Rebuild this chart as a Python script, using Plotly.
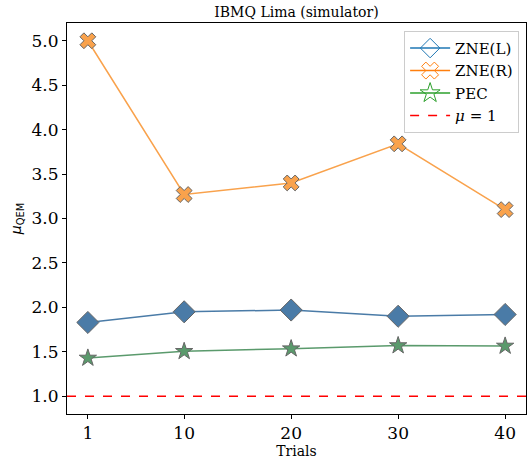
import plotly.graph_objects as go

trials = [1, 10, 20, 30, 40]
zne_l = [1.83, 1.95, 1.97, 1.90, 1.92]
zne_r = [5.00, 3.27, 3.40, 3.84, 3.10]
pec = [1.43, 1.505, 1.535, 1.57, 1.565]
baseline = 1.0

serif = "DejaVu Serif"

series = [
    ("ZNE(L)", zne_l, "#4a7ba7", "#1f77b4", "diamond", 17, "diamond-open"),
    ("ZNE(R)", zne_r, "#f9a24c", "#ff7f0e", "x", 14, "x-open"),
    ("PEC", pec, "#5a9a6c", "#2ca02c", "star", 13, "star-open"),
]

fig = go.Figure()
for name, vals, col, legcol, sym, size, opensym in series:
    fig.add_trace(go.Scatter(
        x=trials, y=vals, mode="lines+markers", showlegend=False,
        line=dict(color=col, width=1.5),
        marker=dict(symbol=sym, size=size, color=col,
                    line=dict(color="#666666", width=1)),
    ))
    fig.add_trace(go.Scatter(
        x=[None], y=[None], mode="lines+markers", name=name,
        line=dict(color=legcol, width=1.5),
        marker=dict(symbol=opensym, size=15, color=legcol,
                    line=dict(color=legcol, width=1)),
    ))

fig.add_hline(y=baseline, line=dict(color="red", width=1.5, dash="dash"))
fig.add_trace(go.Scatter(
    x=[None], y=[None], mode="lines", name="<i>μ</i> = 1",
    line=dict(color="red", width=1.5, dash="dash"),
))

fig.update_layout(
    width=528, height=462,
    margin=dict(l=67, r=2, t=23, b=48),
    plot_bgcolor="white", paper_bgcolor="white",
    title=dict(text="IBMQ Lima (simulator)", x=(67 + 526) / 2 / 528,
               xanchor="center", y=1 - 12 / 462, yanchor="middle",
               font=dict(family=serif, size=14, color="black")),
    xaxis=dict(
        range=[-0.95, 41.95], tickvals=trials, ticktext=[str(t) for t in trials],
        showgrid=False, zeroline=False, showline=True, mirror=True,
        linecolor="black", linewidth=1, ticks="outside", ticklen=4,
        tickcolor="black",
        tickfont=dict(family=serif, size=17, color="black"),
        title=dict(text="Trials", font=dict(family=serif, size=14, color="black"),
                   standoff=2),
    ),
    yaxis=dict(
        range=[0.8, 5.2], tickvals=[1.0, 1.5, 2.0, 2.5, 3.0, 3.5, 4.0, 4.5, 5.0],
        ticktext=["1.0", "1.5", "2.0", "2.5", "3.0", "3.5", "4.0", "4.5", "5.0"],
        showgrid=False, zeroline=False, showline=True, mirror=True,
        linecolor="black", linewidth=1, ticks="outside", ticklen=4,
        tickcolor="black",
        tickfont=dict(family=serif, size=17, color="black"),
        title=dict(text="<i>μ</i><sub>QEM</sub>",
                   font=dict(family="DejaVu Sans", size=14, color="black"),
                   standoff=6),
    ),
    legend=dict(
        x=0.985, y=0.98, xanchor="right", yanchor="top",
        bgcolor="rgba(255,255,255,0.8)", bordercolor="#cccccc", borderwidth=1,
        font=dict(family=serif, size=15, color="black"),
        itemwidth=40, tracegroupgap=0,
    ),
)

fig.write_html("out.html")
